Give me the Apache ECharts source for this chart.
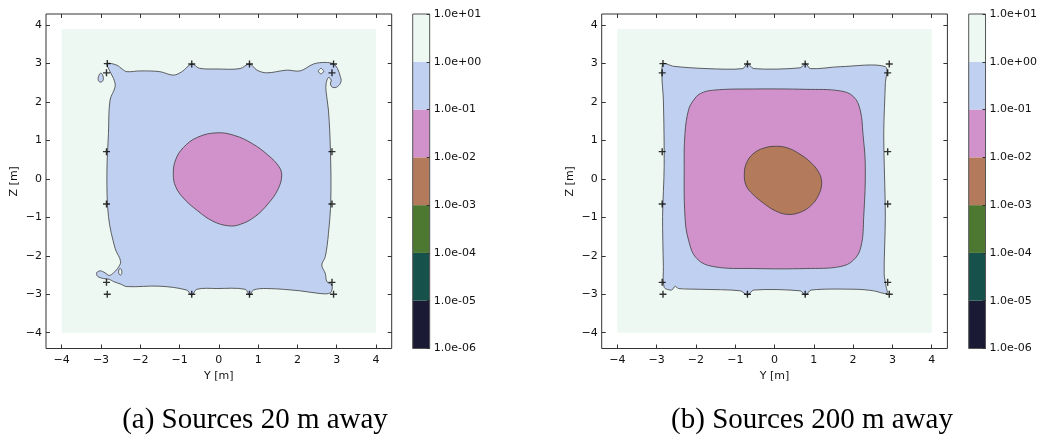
<!DOCTYPE html>
<html><head><meta charset="utf-8">
<script src="https://cdn.jsdelivr.net/npm/echarts@6/dist/echarts.min.js"></script>
<style>html,body{margin:0;padding:0;background:#fff}#c{width:1040px;height:442px}</style>
</head><body><div id="c"></div>
<script>
// ---------- data ----------
const xTicks = [-4,-3,-2,-1,0,1,2,3,4];
const yTicks = [-4,-3,-2,-1,0,1,2,3,4];
const levels = [1e-6,1e-5,1e-4,1e-3,1e-2,1e-1,1e0,1e1];
const captions = ['(a) Sources 20 m away','(b) Sources 200 m away'];
const axisNames = ['Y [m]','Z [m]'];
const domain = [[-4,-4],[4,-4],[4,3.9],[-4,3.9]];
const sources = [[-2.84,3.0],[-2.86,2.76],[-0.69,2.99],[0.78,2.99],[2.92,2.99],[2.88,2.76],
  [-2.86,0.71],[-2.86,-0.65],[2.88,0.71],[2.88,-0.65],[-2.86,-2.69],[-2.84,-3.0],
  [-0.69,-3.0],[0.78,-3.0],[2.88,-2.69],[2.92,-3.0]];
// panel (a): 1e0 contour (outer blue region)
const aOuter = [[-2.84,3.00],[-2.60,2.96],[-2.45,2.85],[-2.34,2.79],[-2.00,2.81],[-1.50,2.79],[-1.16,2.70],[-0.94,2.79],[-0.69,2.99],[-0.50,2.88],[-0.05,2.86],[0.54,2.87],[0.78,2.99],[0.97,2.83],[1.22,2.76],[1.73,2.83],[2.07,2.81],[2.41,2.99],[2.71,3.03],[2.92,2.99],[3.02,2.87],[3.09,2.67],[3.11,2.53],[3.02,2.40],[2.90,2.38],[2.84,2.47],[2.86,2.57],[2.79,2.64],[2.73,2.48],[2.73,2.27],[2.79,1.79],[2.84,0.75],[2.85,-0.55],[2.79,-1.42],[2.71,-2.02],[2.62,-2.24],[2.71,-2.46],[2.75,-2.67],[2.88,-2.76],[2.84,-2.96],[2.58,-2.98],[2.07,-2.91],[1.22,-2.85],[0.88,-2.89],[0.78,-3.02],[0.67,-2.87],[-0.05,-2.85],[-0.56,-2.87],[-0.69,-3.02],[-0.82,-2.89],[-1.50,-2.79],[-2.34,-2.80],[-2.51,-2.73],[-2.68,-2.67],[-2.79,-2.61],[-2.94,-2.59],[-3.09,-2.53],[-3.11,-2.44],[-3.02,-2.39],[-2.90,-2.44],[-2.79,-2.51],[-2.68,-2.44],[-2.58,-2.33],[-2.50,-2.15],[-2.64,-1.81],[-2.81,-0.98],[-2.85,0.14],[-2.81,1.18],[-2.77,2.05],[-2.64,2.40],[-2.68,2.61],[-2.77,2.79]];
const aIsland = [[-3.00,2.75],[-2.95,2.68],[-2.95,2.56],[-3.02,2.52],[-3.07,2.58],[-3.05,2.70]];
const aHole1 = [[2.60,2.88],[2.67,2.80],[2.60,2.73],[2.53,2.80]];
const aHole2 = [[-2.52,-2.33],[-2.47,-2.40],[-2.50,-2.50],[-2.55,-2.44]];
// panel (a): 1e-1 contour
const aInner = [[-1.16,0.12],[-1.10,0.50],[-0.90,0.82],[-0.55,1.08],[-0.05,1.20],[0.40,1.13],[0.85,0.92],[1.25,0.62],[1.53,0.32],[1.60,0.08],[1.50,-0.28],[1.25,-0.65],[0.92,-0.98],[0.55,-1.18],[0.25,-1.22],[-0.15,-1.10],[-0.55,-0.82],[-0.90,-0.50],[-1.10,-0.20]];
// panel (b)
const bOuter = [[-2.83,3.00],[-2.87,2.74],[-2.83,2.05],[-2.81,0.32],[-2.85,-0.98],[-2.83,-2.28],[-2.81,-2.82],[-2.62,-2.89],[-2.53,-2.79],[-2.45,-2.85],[-1.89,-2.87],[-0.87,-2.91],[-0.69,-3.02],[-0.53,-2.89],[0.65,-2.91],[0.79,-3.02],[0.93,-2.89],[2.10,-2.87],[2.52,-2.91],[2.86,-2.98],[2.84,-2.80],[2.79,-2.46],[2.82,-0.98],[2.78,1.18],[2.82,2.48],[2.82,2.92],[1.67,2.92],[0.91,2.87],[0.79,3.00],[0.65,2.89],[-0.53,2.87],[-0.69,3.00],[-0.81,2.87],[-1.72,2.87],[-2.57,2.93]];
const bMid = [[-2.06,2.05],[-2.19,1.79],[-2.28,1.18],[-2.30,0.32],[-2.28,-0.98],[-2.19,-1.59],[-1.98,-2.07],[-1.55,-2.28],[-0.53,-2.33],[0.82,-2.33],[1.67,-2.28],[2.01,-2.11],[2.20,-1.76],[2.27,-0.98],[2.31,0.32],[2.25,1.18],[2.18,1.79],[2.01,2.14],[1.67,2.29],[0.82,2.33],[-0.53,2.34],[-1.55,2.31],[-1.89,2.22]];
const bInner = [[-0.77,0.10],[-0.72,0.40],[-0.55,0.65],[-0.28,0.80],[0.05,0.85],[0.35,0.80],[0.62,0.66],[0.90,0.45],[1.12,0.18],[1.20,-0.10],[1.12,-0.42],[0.92,-0.70],[0.62,-0.88],[0.31,-0.92],[0.02,-0.83],[-0.28,-0.63],[-0.55,-0.40],[-0.72,-0.18]];

// ---------- styles ----------
const bandColors = ['#1b1a35','#17514b','#4d7831','#b47a5c','#d192cb','#c0d0f0','#eef8f2'];
const LINE = '#3c3c3c';
const FONT = 'DejaVu Sans';
const fmt = v => (v < 0 ? '\u2212' : '') + Math.abs(v);
const expFmt = v => { const e = Math.round(v); return '1.0e' + (e < 0 ? '-' : '+') + String(Math.abs(e)).padStart(2,'0'); };

function poly(panel, pts, fill, stroke, smooth, z) {
  return {
    type: 'custom', xAxisIndex: panel*2, yAxisIndex: panel*2, data: pts, encode: {x:0, y:1},
    z: z, silent: true, animation: false, clip: true,
    renderItem: function (params, api) {
      if (params.dataIndex !== 0) return null;
      const p = pts.map(d => api.coord(d));
      return { type: 'polygon', shape: { points: p, smooth: smooth },
        style: { fill: fill, stroke: stroke, lineWidth: stroke ? 0.8 : 0 } };
    }
  };
}
function colorbar(cb) {
  const data = levels.slice(0, -1).map((v, i) => [Math.log10(v), Math.log10(levels[i+1]), i]);
  return {
    type: 'custom', xAxisIndex: 4+cb, yAxisIndex: 4+cb, data: data, encode: {y:[0,1]},
    silent: true, animation: false, z: 2,
    renderItem: function (params, api) {
      const a = api.coord([0, api.value(0)]);
      const b = api.coord([1, api.value(1)]);
      return { type: 'rect', shape: { x: a[0], y: b[1], width: b[0]-a[0], height: a[1]-b[1] },
        style: { fill: bandColors[api.value(2)] } };
    }
  };
}
const labelStyle = { color: '#111', fontFamily: FONT, fontSize: 11 };
function xAx(grid, pos) {
  const bottom = pos === 'bottom';
  return { type: 'value', gridIndex: grid, position: pos, min: -4.4, max: 4.4, z: 20,
    axisLine: { show: false, onZero: false }, splitLine: { show: false },
    axisTick: { show: true, inside: true, length: 4, customValues: xTicks, lineStyle: { color: '#333' } },
    axisLabel: Object.assign({ show: bottom, customValues: xTicks, formatter: fmt, margin: 6 }, labelStyle),
    name: bottom ? axisNames[0] : '', nameLocation: 'middle', nameGap: 21, nameTextStyle: labelStyle };
}
function yAx(grid, pos) {
  const left = pos === 'left';
  return { type: 'value', gridIndex: grid, position: pos, min: -4.41, max: 4.29, z: 20,
    axisLine: { show: false, onZero: false }, splitLine: { show: false },
    axisTick: { show: true, inside: true, length: 4, customValues: yTicks, lineStyle: { color: '#333' } },
    axisLabel: Object.assign({ show: left, customValues: yTicks, formatter: fmt, margin: 4 }, labelStyle),
    name: left ? axisNames[1] : '', nameLocation: 'middle', nameGap: 26, nameTextStyle: labelStyle };
}
const cbX = cb => ({ type: 'value', gridIndex: cb, min: 0, max: 1, show: false });
const cbY = cb => ({ type: 'value', gridIndex: cb, position: 'right', min: Math.log10(levels[0]), max: Math.log10(levels[levels.length-1]), interval: 1, z: 20,
  axisLine: { show: false, onZero: false }, splitLine: { show: false },
  axisTick: { show: true, inside: true, length: 3, lineStyle: { color: '#333' } },
  axisLabel: Object.assign({ formatter: expFmt, margin: 4 }, labelStyle) });

const H = 334.5;
const option = {
  animation: false,
  grid: [
    { left: 46, top: 14, width: 345.7, height: H, show: true, borderColor: '#333', borderWidth: 1, backgroundColor: 'transparent', z: 5 },
    { left: 601.7, top: 14, width: 345.7, height: H, show: true, borderColor: '#333', borderWidth: 1, backgroundColor: 'transparent', z: 5 },
    { left: 412.7, top: 14, width: 17, height: H, show: true, borderColor: '#555', borderWidth: 1, backgroundColor: 'transparent', z: 5 },
    { left: 968.7, top: 14, width: 17, height: H, show: true, borderColor: '#555', borderWidth: 1, backgroundColor: 'transparent', z: 5 }
  ],
  xAxis: [xAx(0,'bottom'), xAx(0,'top'), xAx(1,'bottom'), xAx(1,'top'), cbX(2), cbX(3)],
  yAxis: [yAx(0,'left'), yAx(0,'right'), yAx(1,'left'), yAx(1,'right'), cbY(2), cbY(3)],
  series: [
    poly(0, domain, bandColors[6], null, 0, 1),
    poly(0, aOuter, bandColors[5], LINE, 0.35, 2),
    poly(0, aIsland, bandColors[5], LINE, 0.5, 3),
    poly(0, aHole1, bandColors[6], LINE, 0.2, 3),
    poly(0, aHole2, bandColors[6], LINE, 0.5, 3),
    poly(0, aInner, bandColors[4], LINE, 0.4, 4),
    poly(1, domain, bandColors[6], null, 0, 1),
    poly(1, bOuter, bandColors[5], LINE, 0.3, 2),
    poly(1, bMid, bandColors[4], LINE, 0.4, 3),
    poly(1, bInner, bandColors[3], LINE, 0.4, 4),
    colorbar(0), colorbar(1),
    { type: 'scatter', xAxisIndex: 0, yAxisIndex: 0, data: sources, symbol: 'path://M4,0H6V4H10V6H6V10H4V6H0V4H4Z', symbolSize: 7, itemStyle: { color: '#000' }, z: 10, silent: true },
    { type: 'scatter', xAxisIndex: 2, yAxisIndex: 2, data: sources, symbol: 'path://M4,0H6V4H10V6H6V10H4V6H0V4H4Z', symbolSize: 7, itemStyle: { color: '#000' }, z: 10, silent: true }
  ],
  graphic: [
    { type: 'text', x: 255, y: 420, style: { text: captions[0], font: '29px "Liberation Serif"', fill: '#000', textAlign: 'center', textVerticalAlign: 'middle' } },
    { type: 'text', x: 812, y: 420, style: { text: captions[1], font: '29px "Liberation Serif"', fill: '#000', textAlign: 'center', textVerticalAlign: 'middle' } }
  ]
};
const chart = echarts.init(document.getElementById('c'), null, { renderer: 'canvas' });
chart.setOption(option);
</script></body></html>
